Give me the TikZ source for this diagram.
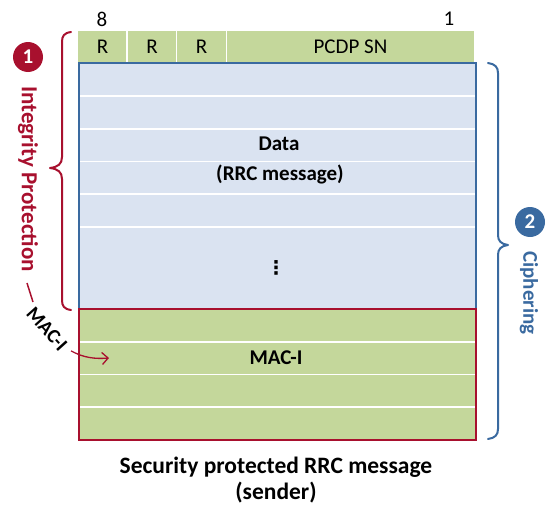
\documentclass[tikz,border=0pt]{standalone}
\usepackage{fontspec}
\setmainfont{Carlito}
\newfontfamily\symfont{DejaVu Sans}
\usetikzlibrary{arrows.meta}
\definecolor{hdrgreen}{HTML}{C4D79B}
\definecolor{datablue}{HTML}{DAE3F1}
\definecolor{edgeblue}{HTML}{3A6AA0}
\definecolor{edgered}{HTML}{A8102E}
\tikzset{
  txt/.style={font=\fontsize{21}{25}\selectfont, inner sep=0pt},
  boldtxt/.style={font=\fontsize{21}{25}\selectfont\bfseries, inner sep=0pt},
  hdrcell/.style={fill=hdrgreen, draw=white, line width=1.5pt, inner sep=0pt,
    font=\fontsize{21}{25}\selectfont, minimum height=32pt},
  rowline/.style={white, line width=1.8pt},
  brace/.style={line width=2pt, line cap=round, line join=round},
  badge/.style={circle, minimum size=30pt, inner sep=0pt, text=white,
    font=\fontsize{21}{24}\selectfont\bfseries},
}
\begin{document}
\begin{tikzpicture}[x=1pt, y=-1pt]
\useasboundingbox (0,0) rectangle (552,506);

% bit numbers
\node[txt] (b8) at (102,19) {8};
\node[txt] (b1) at (449,19) {1};

% header octet
\node[hdrcell, minimum width=50pt] (r1) at (102.5,46.5) {R};
\node[hdrcell, minimum width=50pt] (r2) at (152,46.5) {R};
\node[hdrcell, minimum width=50pt] (r3) at (201.5,46.5) {R};
\node[hdrcell, minimum width=248pt] (sn) at (350.5,46.5) {PCDP SN};

% data part
\fill[datablue] (79,63) rectangle (476,309);
\foreach \y in {96,129,161.5,194,227}
  \draw[rowline] (80,\y) -- (475,\y);
\draw[edgeblue, line width=2pt] (79,63) rectangle (476,309);
\node[boldtxt] (data) at (279,144) {Data};
\node[boldtxt] (rrc) at (280,174) {(RRC message)};
\node[inner sep=0pt, font=\fontsize{19}{22}\selectfont\symfont\bfseries] (dots) at (276,268) {⋮};

% MAC-I part
\fill[hdrgreen] (79,309) rectangle (476,440);
\foreach \y in {342,374.5,407}
  \draw[rowline] (80,\y) -- (475,\y);
\draw[edgered, line width=2.5pt] (79,309) rectangle (476,440);
\node[boldtxt] (maci) at (276,358) {MAC-I};

% caption
\node[font=\fontsize{23.5}{26}\selectfont\bfseries, align=center, inner sep=0pt]
  (cap) at (276,480) {Security protected RRC message\\(sender)};

% integrity protection brace
\draw[brace, edgered] (71,32) .. controls (64,33) and (62,36) .. (62,42)
  -- (62,157) .. controls (62,164) and (58,167) .. (50,168)
  .. controls (58,169) and (62,172) .. (62,179)
  -- (62,300) .. controls (62,306) and (64,309) .. (71,310);
\node[badge, fill=edgered] (one) at (28,57) {1};
\node[font=\fontsize{23}{26}\selectfont\bfseries, text=edgered, rotate=-90, inner sep=0pt]
  (ip) at (28,179) {Integrity Protection};
\coordinate (dashA) at (27,283);
\coordinate (dashB) at (33,302);
\draw[edgered, line width=1.5pt] (dashA) -- (dashB);
\node[font=\fontsize{20}{24}\selectfont\bfseries, rotate=-48, inner sep=0pt]
  (macl) at (47,329) {MAC-I};
\coordinate (macin) at (109,358);
\draw[edgered, line width=1.3pt, -{Straight Barb[length=6pt, width=12pt]}]
  (macl.east) ++(7,3) .. controls (84,358) and (95,359) .. (macin);

% ciphering brace
\draw[brace, edgeblue] (488,63) .. controls (495,64) and (498,67) .. (498,73)
  -- (498,235) .. controls (498,241) and (501,244) .. (508,245)
  .. controls (501,246) and (498,249) .. (498,255)
  -- (498,429) .. controls (498,435) and (495,438) .. (488,439);
\node[badge, fill=edgeblue] (two) at (530,222) {2};
\node[font=\fontsize{21}{24}\selectfont\bfseries, text=edgeblue, rotate=-90, inner sep=0pt]
  (ciph) at (529,293) {Ciphering};
\end{tikzpicture}
\end{document}
